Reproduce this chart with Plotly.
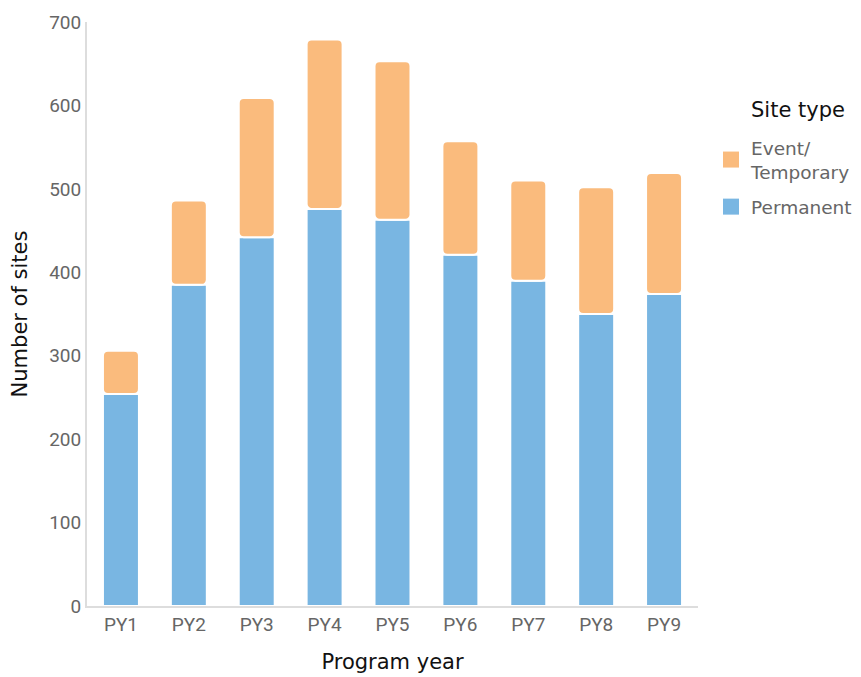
import plotly.graph_objects as go

years = ["PY1", "PY2", "PY3", "PY4", "PY5", "PY6", "PY7", "PY8", "PY9"]
permanent = [254, 385, 442, 476, 463, 421, 390, 350, 374]
totals = [306, 486, 609, 679, 653, 557, 510, 502, 519]
event_temp = [t - p for t, p in zip(totals, permanent)]

BLUE = "#79b6e2"
ORANGE = "#fabb7d"
TITLE_FONT = "DejaVu Sans, Verdana, sans-serif"

W, H = 853, 669
L, R, T, B = 79, 163, 14, 71
PW, PH = W - L - R, H - T - B

fig = go.Figure()
fig.add_trace(go.Bar(
    x=years, y=permanent, name="Permanent", showlegend=False,
    marker=dict(color=BLUE, line=dict(color="white", width=2), cornerradius=5),
))
fig.add_trace(go.Bar(
    x=years, y=event_temp, base=permanent, name="Event/<br>Temporary", showlegend=False,
    marker=dict(color=ORANGE, line=dict(color="white", width=2), cornerradius=5),
))
# legend entries
fig.add_trace(go.Scatter(
    x=[None], y=[None], mode="markers", name="Event/<br>Temporary", legendgroup="e",
    marker=dict(symbol="square", size=20, color=ORANGE),
))
fig.add_trace(go.Scatter(
    x=[None], y=[None], mode="markers", name="Permanent", legendgroup="p",
    marker=dict(symbol="square", size=20, color=BLUE),
))

fig.add_annotation(
    text="Site type", showarrow=False,
    xref="paper", yref="paper",
    x=(741 - L) / PW, xanchor="left",
    y=(T + PH - 102) / PH, yanchor="middle",
    font=dict(family=TITLE_FONT, size=21, color="#111111"),
)

fig.update_layout(
    barmode="overlay",
    bargap=0.47,
    width=W, height=H,
    margin=dict(l=L, r=R, t=T, b=B, autoexpand=False),
    plot_bgcolor="white", paper_bgcolor="white",
    font=dict(family="Roboto, sans-serif", size=19, color="#666666"),
    legend=dict(
        xref="container", yref="container",
        x=703 / W, xanchor="left", y=1 - 121 / H, yanchor="top",
        font=dict(family=TITLE_FONT, size=18.5, color="#666666"),
        itemsizing="trace",
        tracegroupgap=8,
    ),
    showlegend=True,
)
fig.update_xaxes(
    title=dict(text="Program year", font=dict(family=TITLE_FONT, size=21, color="#111111"), standoff=20),
    showline=True, linecolor="#dddddd", linewidth=2,
    ticks="", showgrid=False, automargin=False,
)
fig.update_yaxes(
    title=dict(text="Number of sites", font=dict(family=TITLE_FONT, size=21, color="#111111"), standoff=16),
    range=[0, 700], dtick=100,
    showline=True, linecolor="#dddddd", linewidth=2,
    showgrid=False, zeroline=False, ticks="", automargin=False,
)

fig.write_html("out.html")
